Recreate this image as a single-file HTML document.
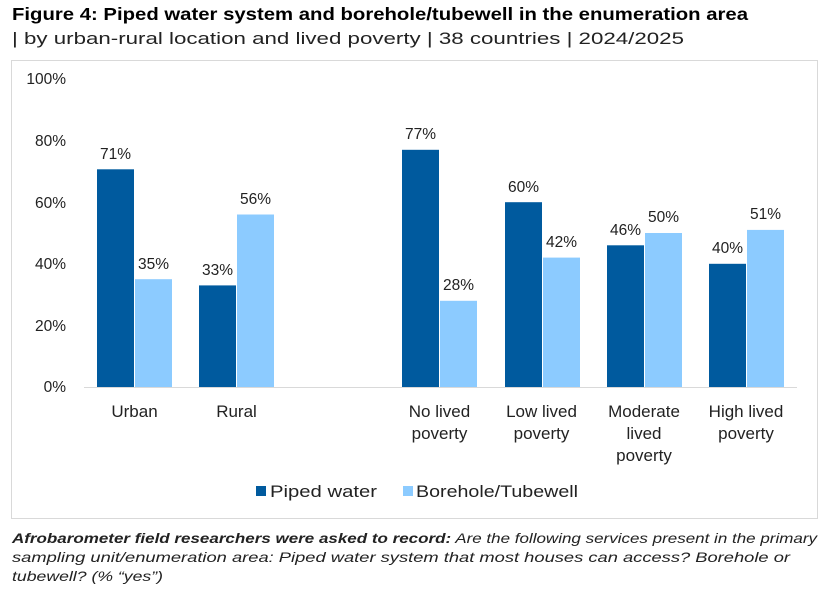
<!DOCTYPE html>
<html><head><meta charset="utf-8"><style>
body{margin:0;background:#fff;width:840px;height:591px;overflow:hidden;font-family:"Liberation Sans",sans-serif}
</style></head><body>
<svg width="840" height="591" xmlns="http://www.w3.org/2000/svg" font-family="Liberation Sans, sans-serif">
<text x="12" y="20" font-size="17.5" font-weight="bold" fill="#000" textLength="736" lengthAdjust="spacingAndGlyphs">Figure 4: Piped water system and borehole/tubewell in the enumeration area</text>
<text x="12" y="44" font-size="16.5" fill="#222" textLength="672" lengthAdjust="spacingAndGlyphs">| by urban-rural location and lived poverty | 38 countries | 2024/2025</text>
<rect x="11.5" y="60.5" width="806" height="458" fill="none" stroke="#d9d9d9"/>
<g font-size="15.5" fill="#222" text-anchor="end">
<text x="66" y="84">100%</text><text x="66" y="146">80%</text><text x="66" y="208">60%</text>
<text x="66" y="269">40%</text><text x="66" y="331">20%</text><text x="66" y="392">0%</text>
</g>
<line x1="84" y1="387.5" x2="797" y2="387.5" stroke="#d9d9d9"/>
<g fill="#005a9e">
<rect x="97" y="169.3" width="37" height="217.7"/>
<rect x="199" y="285.4" width="37" height="101.6"/>
<rect x="402" y="149.8" width="37" height="237.2"/>
<rect x="505" y="202.2" width="37" height="184.8"/>
<rect x="607" y="245.3" width="37" height="141.7"/>
<rect x="709" y="263.8" width="37" height="123.2"/>
</g>
<g fill="#8ccbff">
<rect x="135" y="279.2" width="37" height="107.8"/>
<rect x="237" y="214.5" width="37" height="172.5"/>
<rect x="440" y="300.8" width="37" height="86.2"/>
<rect x="543" y="257.6" width="37" height="129.4"/>
<rect x="645" y="233" width="37" height="154"/>
<rect x="747" y="229.9" width="37" height="157.1"/>
</g>
<g font-size="15.5" fill="#222" text-anchor="middle">
<text x="115.5" y="159">71%</text><text x="153.5" y="269">35%</text>
<text x="217.5" y="275">33%</text><text x="255.5" y="204">56%</text>
<text x="420.5" y="139">77%</text><text x="458.5" y="290">28%</text>
<text x="523.5" y="192">60%</text><text x="561.5" y="247">42%</text>
<text x="625.5" y="235">46%</text><text x="663.5" y="222">50%</text>
<text x="727.5" y="253">40%</text><text x="765.5" y="219">51%</text>
</g>
<g font-size="17" fill="#222" text-anchor="middle">
<text x="134.5" y="417">Urban</text><text x="236.5" y="417">Rural</text>
<text x="439.5" y="417">No lived</text><text x="439.5" y="439">poverty</text>
<text x="541.5" y="417">Low lived</text><text x="541.5" y="439">poverty</text>
<text x="644" y="417">Moderate</text><text x="644" y="439">lived</text><text x="644" y="461">poverty</text>
<text x="746" y="417">High lived</text><text x="746" y="439">poverty</text>
</g>
<rect x="256" y="486" width="10" height="10" fill="#005a9e"/>
<text x="270" y="497" font-size="16.5" fill="#222" textLength="107" lengthAdjust="spacingAndGlyphs">Piped water</text>
<rect x="403" y="486" width="10" height="10" fill="#8ccbff"/>
<text x="416" y="497" font-size="16.5" fill="#222" textLength="162" lengthAdjust="spacingAndGlyphs">Borehole/Tubewell</text>
<g font-size="14" font-style="italic" fill="#222">
<text x="12" y="543" textLength="805" lengthAdjust="spacingAndGlyphs"><tspan font-weight="bold">Afrobarometer field researchers were asked to record:</tspan> Are the following services present in the primary</text>
<text x="12" y="562" textLength="778" lengthAdjust="spacingAndGlyphs">sampling unit/enumeration area: Piped water system that most houses can access? Borehole or</text>
<text x="12" y="581" textLength="151" lengthAdjust="spacingAndGlyphs">tubewell? (% “yes”)</text>
</g>
</svg>
</body></html>
